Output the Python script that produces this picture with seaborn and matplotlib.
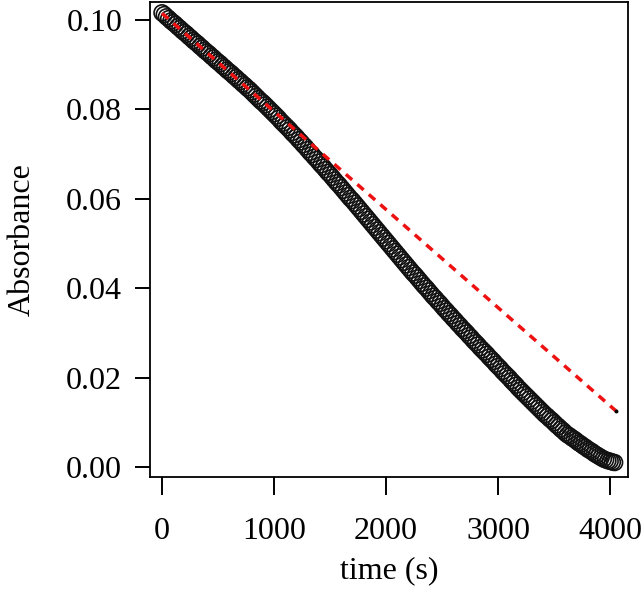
import matplotlib
matplotlib.use("Agg")
import matplotlib.pyplot as plt
import seaborn as sns
import pandas as pd

# Measured absorbance (one reading every 20 s)
time_s = [
    0, 20, 40, 60, 80, 100, 120, 140, 160, 180,
    200, 220, 240, 260, 280, 300, 320, 340, 360, 380,
    400, 420, 440, 460, 480, 500, 520, 540, 560, 580,
    600, 620, 640, 660, 680, 700, 720, 740, 760, 780,
    800, 820, 840, 860, 880, 900, 920, 940, 960, 980,
    1000, 1020, 1040, 1060, 1080, 1100, 1120, 1140, 1160, 1180,
    1200, 1220, 1240, 1260, 1280, 1300, 1320, 1340, 1360, 1380,
    1400, 1420, 1440, 1460, 1480, 1500, 1520, 1540, 1560, 1580,
    1600, 1620, 1640, 1660, 1680, 1700, 1720, 1740, 1760, 1780,
    1800, 1820, 1840, 1860, 1880, 1900, 1920, 1940, 1960, 1980,
    2000, 2020, 2040, 2060, 2080, 2100, 2120, 2140, 2160, 2180,
    2200, 2220, 2240, 2260, 2280, 2300, 2320, 2340, 2360, 2380,
    2400, 2420, 2440, 2460, 2480, 2500, 2520, 2540, 2560, 2580,
    2600, 2620, 2640, 2660, 2680, 2700, 2720, 2740, 2760, 2780,
    2800, 2820, 2840, 2860, 2880, 2900, 2920, 2940, 2960, 2980,
    3000, 3020, 3040, 3060, 3080, 3100, 3120, 3140, 3160, 3180,
    3200, 3220, 3240, 3260, 3280, 3300, 3320, 3340, 3360, 3380,
    3400, 3420, 3440, 3460, 3480, 3500, 3520, 3540, 3560, 3580,
    3600, 3620, 3640, 3660, 3680, 3700, 3720, 3740, 3760, 3780,
    3800, 3820, 3840, 3860, 3880, 3900, 3920, 3940, 3960, 3980,
    4000, 4020, 4040,
]
absorbance = [
    0.1016, 0.1012, 0.1007, 0.1003, 0.0998, 0.0994, 0.0990, 0.0985, 0.0981, 0.0976,
    0.0972, 0.0968, 0.0963, 0.0959, 0.0954, 0.0950, 0.0946, 0.0941, 0.0937, 0.0932,
    0.0928, 0.0924, 0.0919, 0.0915, 0.0910, 0.0906, 0.0902, 0.0897, 0.0893, 0.0888,
    0.0884, 0.0880, 0.0875, 0.0871, 0.0866, 0.0862, 0.0857, 0.0853, 0.0848, 0.0844,
    0.0839, 0.0834, 0.0829, 0.0824, 0.0819, 0.0815, 0.0810, 0.0805, 0.0800, 0.0795,
    0.0790, 0.0785, 0.0780, 0.0774, 0.0769, 0.0764, 0.0759, 0.0754, 0.0748, 0.0743,
    0.0738, 0.0732, 0.0727, 0.0721, 0.0716, 0.0710, 0.0704, 0.0699, 0.0693, 0.0688,
    0.0682, 0.0676, 0.0671, 0.0665, 0.0659, 0.0654, 0.0648, 0.0642, 0.0636, 0.0631,
    0.0625, 0.0619, 0.0613, 0.0607, 0.0601, 0.0596, 0.0590, 0.0584, 0.0578, 0.0572,
    0.0566, 0.0560, 0.0554, 0.0548, 0.0542, 0.0536, 0.0530, 0.0524, 0.0518, 0.0512,
    0.0506, 0.0500, 0.0494, 0.0488, 0.0482, 0.0476, 0.0470, 0.0464, 0.0458, 0.0452,
    0.0446, 0.0440, 0.0434, 0.0429, 0.0423, 0.0417, 0.0411, 0.0405, 0.0400, 0.0394,
    0.0388, 0.0382, 0.0377, 0.0371, 0.0366, 0.0360, 0.0354, 0.0349, 0.0343, 0.0338,
    0.0332, 0.0327, 0.0321, 0.0316, 0.0310, 0.0305, 0.0300, 0.0294, 0.0289, 0.0283,
    0.0278, 0.0273, 0.0267, 0.0262, 0.0257, 0.0252, 0.0246, 0.0241, 0.0236, 0.0230,
    0.0225, 0.0220, 0.0214, 0.0209, 0.0204, 0.0199, 0.0193, 0.0188, 0.0183, 0.0177,
    0.0172, 0.0167, 0.0162, 0.0157, 0.0152, 0.0147, 0.0142, 0.0137, 0.0132, 0.0127,
    0.0122, 0.0117, 0.0113, 0.0108, 0.0104, 0.0099, 0.0094, 0.0090, 0.0085, 0.0081,
    0.0076, 0.0072, 0.0069, 0.0065, 0.0062, 0.0058, 0.0054, 0.0051, 0.0047, 0.0044,
    0.0040, 0.0037, 0.0034, 0.0030, 0.0027, 0.0024, 0.0021, 0.0018, 0.0016, 0.0014,
    0.0013, 0.0011, 0.0010,
]

# Initial-rate linear fit (red dashed line)
fit_time = [0, 4054]
fit_abs = [0.1015, 0.0125]

x_ticks = [0, 1000, 2000, 3000, 4000]
y_ticks = [0.00, 0.02, 0.04, 0.06, 0.08, 0.10]

df = pd.DataFrame({"time": time_s, "abs": absorbance})

sns.set_style("ticks")
plt.rcParams["font.family"] = ["Liberation Serif", "DejaVu Serif"]
plt.rcParams["text.color"] = "black"
plt.rcParams["axes.labelcolor"] = "black"

fig = plt.figure(figsize=(6.41, 5.90), dpi=100)
ax = fig.add_axes([0.234, 0.1915, 0.746, 0.805])

sns.scatterplot(data=df, x="time", y="abs", ax=ax, marker="o", s=130,
                facecolor="none", edgecolor="#111111", linewidth=1.2,
                legend=False, zorder=2)

ax.plot(fit_time, fit_abs, color="#ee1111", lw=2.5,
        linestyle=(0, (2.4, 2.0)), zorder=3)
ax.plot(fit_time[-1:], fit_abs[-1:], "o", color="black", ms=1.8, zorder=4)

ax.set_xlim(-107, 4161)
ax.set_ylim(-0.00224, 0.1040)
ax.set_xticks(x_ticks)
ax.set_xticklabels([str(t) for t in x_ticks])
ax.set_yticks(y_ticks)
ax.set_yticklabels([f"{v:.2f}" for v in y_ticks])

for side in ["top", "right", "left", "bottom"]:
    ax.spines[side].set_visible(True)
    ax.spines[side].set_linewidth(1.3)
    ax.spines[side].set_color("black")

ax.tick_params(axis="x", direction="out", length=13, width=1.4,
               pad=16, labelsize=23, colors="black")
ax.tick_params(axis="y", direction="out", length=11, width=1.4,
               pad=9, labelsize=23, colors="black")

ax.set_xlabel("time (s)", fontsize=23, labelpad=7, color="black")
ax.set_ylabel("Absorbance", fontsize=23, labelpad=21, color="black")

fig.savefig("out.png", dpi=100)
plt.close(fig)
